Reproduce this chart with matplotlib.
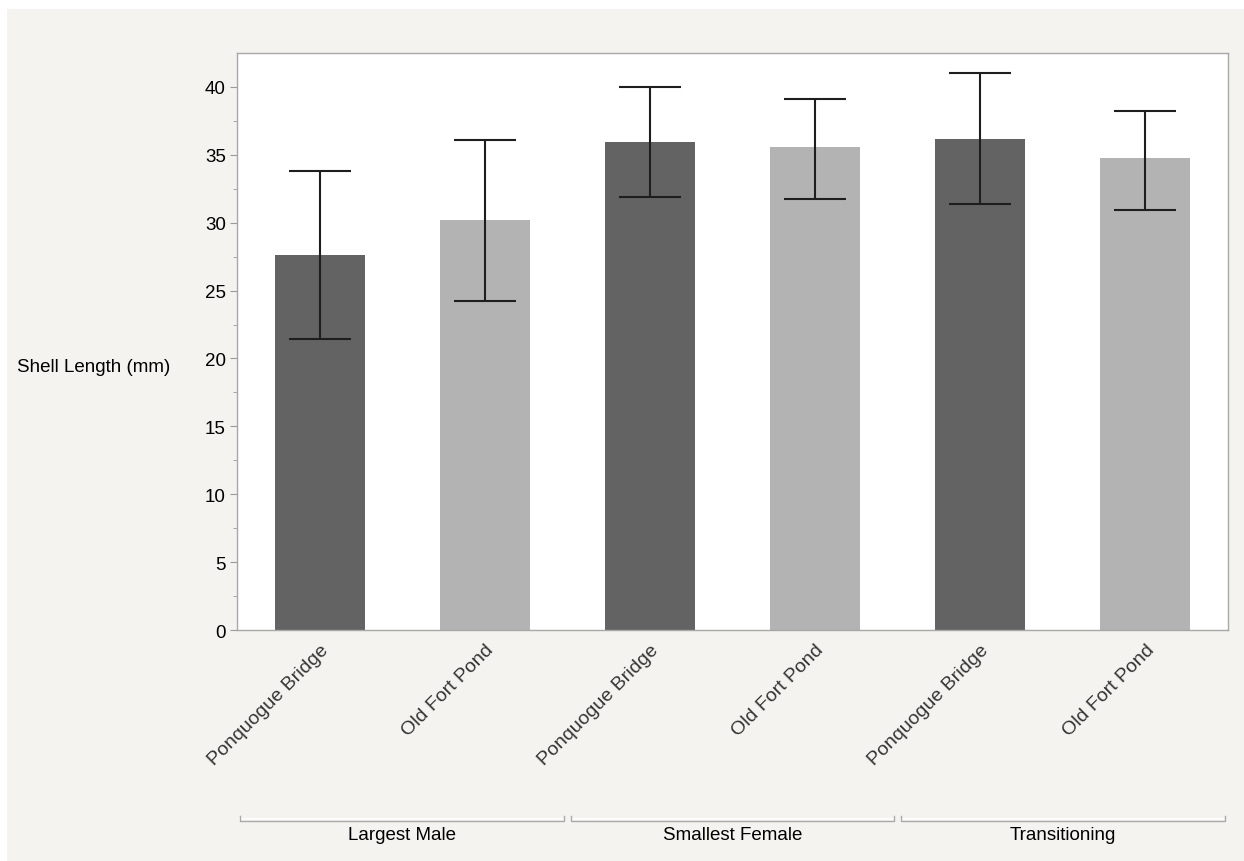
import numpy as np
import matplotlib.pyplot as plt
import matplotlib.transforms as mtransforms
from matplotlib.patches import Rectangle

plt.rcParams["font.family"] = ["Liberation Sans", "DejaVu Sans"]

groups = ["Largest Male", "Smallest Female", "Transitioning"]
sites = ["Ponquogue Bridge", "Old Fort Pond"] * 3
means = [27.6, 30.2, 35.95, 35.6, 36.2, 34.75]
err_low = [21.4, 24.2, 31.9, 31.75, 31.4, 30.9]
err_high = [33.8, 36.1, 40.0, 39.1, 41.0, 38.2]
colors = ["#636363", "#b3b3b3"] * 3

W, H = 1244, 862
fig = plt.figure(figsize=(W / 100, H / 100), dpi=100, facecolor="white")
# light grey panel behind everything, with a thin white margin top/left
fig.patches.append(Rectangle((7 / W, 0), 1 - 7 / W + 0.01, 1 - 10 / H,
                             transform=fig.transFigure, facecolor="#f4f3ef",
                             linewidth=0, zorder=-10))
ax = fig.add_axes([237 / W, 1 - 631 / H, 991 / W, 577 / H])
ax.set_facecolor("white")

x = np.arange(len(means))
means = np.array(means)
yerr = [means - np.array(err_low), np.array(err_high) - means]
ax.bar(x, means, width=0.545, color=colors, zorder=2)
ax.errorbar(x, means, yerr=yerr, fmt="none", ecolor="#1e1e1e",
            elinewidth=1.5, capsize=22, capthick=1.5, zorder=3)

ax.set_xlim(-0.5, 5.5)
ax.set_ylim(0, 42.5)
ax.set_yticks(np.arange(0, 41, 5))
ax.set_yticks(np.arange(2.5, 42.5, 5), minor=True)
ax.tick_params(axis="y", which="major", length=5, color="#999999",
               labelsize=13.5, pad=3)
ax.tick_params(axis="y", which="minor", length=3, color="#999999")
ax.set_xticks(x)
ax.set_xticklabels(sites, rotation=45, ha="right", rotation_mode="anchor",
                   fontsize=14, color="#333333")
ax.tick_params(axis="x", length=0, pad=8)
for s in ax.spines.values():
    s.set_color("#a8a8a8")
    s.set_linewidth(1.0)

fig.text(94 / W, 1 - 368 / H, "Shell Length (mm)", fontsize=13.5,
         ha="center", va="center")

trans = mtransforms.blended_transform_factory(ax.transData, ax.transAxes)
for i, g in enumerate(groups):
    x0, x1 = 2 * i - 0.48, 2 * i + 1.48
    ax.plot([x0, x1], [-0.328, -0.328], color="white", lw=1.2,
            transform=trans, clip_on=False)
    ax.plot([x0, x0, x1, x1], [-0.322, -0.331, -0.331, -0.322],
            color="#aaaaaa", lw=1.0, transform=trans, clip_on=False)
    ax.text(2 * i + 0.5, -0.355, g, transform=trans, ha="center",
            va="center", fontsize=13.5)

fig.savefig("out.png", dpi=100, facecolor=fig.get_facecolor())
